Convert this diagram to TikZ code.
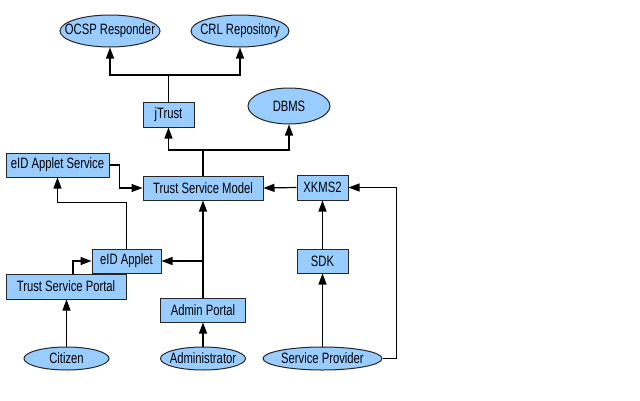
\documentclass[tikz,border=0pt]{standalone}
\usepackage{fontspec}
\setmainfont[FakeStretch=0.75]{Liberation Sans}
\usetikzlibrary{shapes.geometric,arrows.meta}
\definecolor{nodefill}{RGB}{153,204,255}
\tikzset{
  box/.style={draw=black!85, line width=1pt, fill=nodefill, rectangle, inner sep=0pt, minimum height=24pt, font=\fontsize{15}{17}\selectfont},
  oval/.style={draw=black!85, line width=1pt, fill=nodefill, ellipse, inner xsep=-45pt, inner ysep=-12pt, font=\fontsize{15}{17}\selectfont},
  arr/.style={line width=1.2pt, -{Triangle[length=11pt,width=8pt]}},
  ln/.style={line width=1.2pt}
}
\begin{document}
\begin{tikzpicture}[x=1pt,y=-1pt]
\useasboundingbox (0,0) rectangle (640,400);
% ellipses
\node[oval, minimum width=100pt, minimum height=32pt] (ocsp) at (110,31) {OCSP Responder};
\node[oval, minimum width=98pt, minimum height=32pt] (crl) at (240,31) {CRL Repository};
\node[oval, minimum width=82pt, minimum height=36pt] (dbms) at (289,106) {DBMS};
\node[oval, minimum width=85pt, minimum height=23pt] (citizen) at (66.5,358.5) {Citizen};
\node[oval, minimum width=85pt, minimum height=23pt] (administrator) at (203,358.5) {Administrator};
\node[oval, minimum width=119pt, minimum height=23pt] (sp) at (322.5,358.5) {Service Provider};
% boxes
\node[box, minimum width=51pt, minimum height=25pt] (jtrust) at (168.5,114.5) {jTrust};
\node[box, minimum width=103pt] (eidas) at (57.5,165) {eID Applet Service};
\node[box, minimum width=120pt] (tsm) at (203,188) {Trust Service Model};
\node[box, minimum width=51pt, minimum height=25pt] (xkms) at (322.5,187.5) {XKMS2};
\node[box, minimum width=69pt] (eidapplet) at (126.5,261) {eID Applet};
\node[box, minimum width=120pt, minimum height=25pt] (tsp) at (66,286.5) {Trust Service Portal};
\node[box, minimum width=51pt] (sdk) at (322.5,261) {SDK};
\node[box, minimum width=85pt] (admin) at (203,310) {Admin Portal};
% connectors
\coordinate (j1) at (168.5,75);
\draw[ln] (jtrust.north) -- (j1);
\draw[arr] (j1) -| (ocsp.south);
\draw[arr] (j1) -| (crl.south);
\coordinate (j2) at (203,150);
\draw[ln] (tsm.north) -- (j2);
\draw[arr] (j2) -| (jtrust.south);
\draw[arr] (j2) -| (dbms.south);
\draw[arr] (eidas.east) -- ++(10,0) |- (tsm.west);
\draw[arr] (eidapplet.north) -- ++(0,-46) -| (eidas.south);
\draw[arr] ([xshift=7pt]tsp.north) |- (eidapplet.west);
\draw[arr] (admin.north) -- (tsm.south);
\draw[arr] (admin.north |- eidapplet.east) -- (eidapplet.east);
\draw[arr] (xkms.west) -- (tsm.east);
\draw[arr] (sdk.north) -- (xkms.south);
\draw[arr] (sp.north) -- (sdk.south);
\draw[arr] (citizen.north) -- (citizen.north |- tsp.south);
\draw[arr] (administrator.north) -- (admin.south);
\draw[arr] (sp.east) -- ++(14,0) |- (xkms.east);
\end{tikzpicture}
\end{document}
